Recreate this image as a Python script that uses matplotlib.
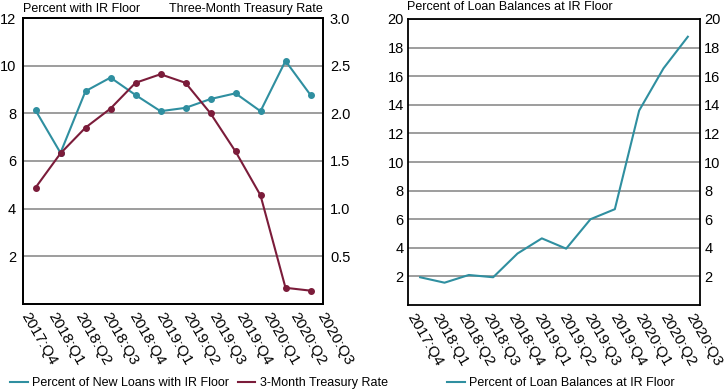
import numpy as np
import matplotlib
matplotlib.use("Agg")
import matplotlib.pyplot as plt
from matplotlib.lines import Line2D

plt.rcParams['font.family'] = ['Liberation Sans', 'DejaVu Sans']

# Donnees
quarters = ['2017:Q4', '2018:Q1', '2018:Q2', '2018:Q3', '2018:Q4', '2019:Q1',
            '2019:Q2', '2019:Q3', '2019:Q4', '2020:Q1', '2020:Q2', '2020:Q3']
new_loans_floor = [8.13, 6.34, 8.93, 9.5, 8.77, 8.09, 8.23, 8.6, 8.84, 8.09, 10.2, 8.77]
treasury_3m = [1.22, 1.58, 1.85, 2.05, 2.32, 2.41, 2.32, 2.0, 1.6, 1.14, 0.17, 0.14]
balances_floor = [1.94, 1.56, 2.1, 1.94, 3.6, 4.66, 3.94, 6.0, 6.7, 13.6, 16.55, 18.76]

teal = '#2f8fa0'
maroon = '#7b1c3a'
grid_col = '#8c8c8c'

W, H = 725, 391
fig = plt.figure(figsize=(W / 100, H / 100), dpi=100)

x = np.arange(len(quarters))


def style_axes(ax, xtick_pos):
    ax.set_xlim(-0.5, len(quarters) - 0.5)
    ax.grid(True, axis='y', color=grid_col, linewidth=1.2)
    ax.set_axisbelow(True)
    for s in ax.spines.values():
        s.set_linewidth(1.3)
        s.set_color('black')
    ax.set_xticks(xtick_pos)
    ax.set_xticklabels(quarters, rotation=-60, rotation_mode='anchor',
                       ha='left', va='center', fontsize=11)
    ax.tick_params(axis='x', length=0, pad=7)
    ax.tick_params(axis='y', length=0, labelsize=10.5)


# Panneau gauche
ax1 = fig.add_axes([23 / W, 1 - 304 / H, 300 / W, 286 / H])
ax1.plot(x, new_loans_floor, color=teal, lw=1.5, marker='o', ms=4)
ax1.set_ylim(0, 12)
ax1.set_yticks(range(2, 13, 2))
style_axes(ax1, np.linspace(-0.45, 11.4, 12))
ax1.tick_params(axis='y', pad=5)

ax1b = ax1.twinx()
ax1b.plot(x, treasury_3m, color=maroon, lw=1.5, marker='o', ms=4)
ax1b.set_ylim(0, 3)
ax1b.set_yticks([0.5, 1.0, 1.5, 2.0, 2.5, 3.0])
ax1b.set_yticklabels(['0.5', '1.0', '1.5', '2.0', '2.5', '3.0'])
ax1b.tick_params(axis='y', length=0, labelsize=10.5, pad=5)
for s in ax1b.spines.values():
    s.set_linewidth(1.3)

fig.text(23 / W, 1 - 9 / H, 'Percent with IR Floor', fontsize=9, va='center', ha='left')
fig.text(323 / W, 1 - 9 / H, 'Three-Month Treasury Rate', fontsize=9, va='center', ha='right')

# Panneau droit
ax2 = fig.add_axes([408 / W, 1 - 305 / H, 292 / W, 286 / H])
ax2.plot(x, balances_floor, color=teal, lw=1.5)
ax2.set_ylim(0, 20)
ax2.set_yticks(range(2, 21, 2))
style_axes(ax2, np.linspace(-0.4, 11.05, 12))
ax2.tick_params(axis='y', pad=3, right=True, labelright=True, length=0)

fig.text(407 / W, 1 - 7 / H, 'Percent of Loan Balances at IR Floor', fontsize=9, va='center', ha='left')

# Legendes
h1 = Line2D([], [], color=teal, lw=1.5)
h2 = Line2D([], [], color=maroon, lw=1.5)
fig.legend([h1, h2], ['Percent of New Loans with IR Floor', '3-Month Treasury Rate'],
           loc='center left', bbox_to_anchor=(10 / W, 1 - 383 / H), ncol=2,
           frameon=False, fontsize=9, handlelength=1.4, handletextpad=0.35,
           columnspacing=0.7, borderaxespad=0, borderpad=0)
fig.legend([h1], ['Percent of Loan Balances at IR Floor'],
           loc='center left', bbox_to_anchor=(447 / W, 1 - 383 / H),
           frameon=False, fontsize=9, handlelength=1.4, handletextpad=0.35,
           borderaxespad=0, borderpad=0)

fig.savefig('out.png', dpi=100)
